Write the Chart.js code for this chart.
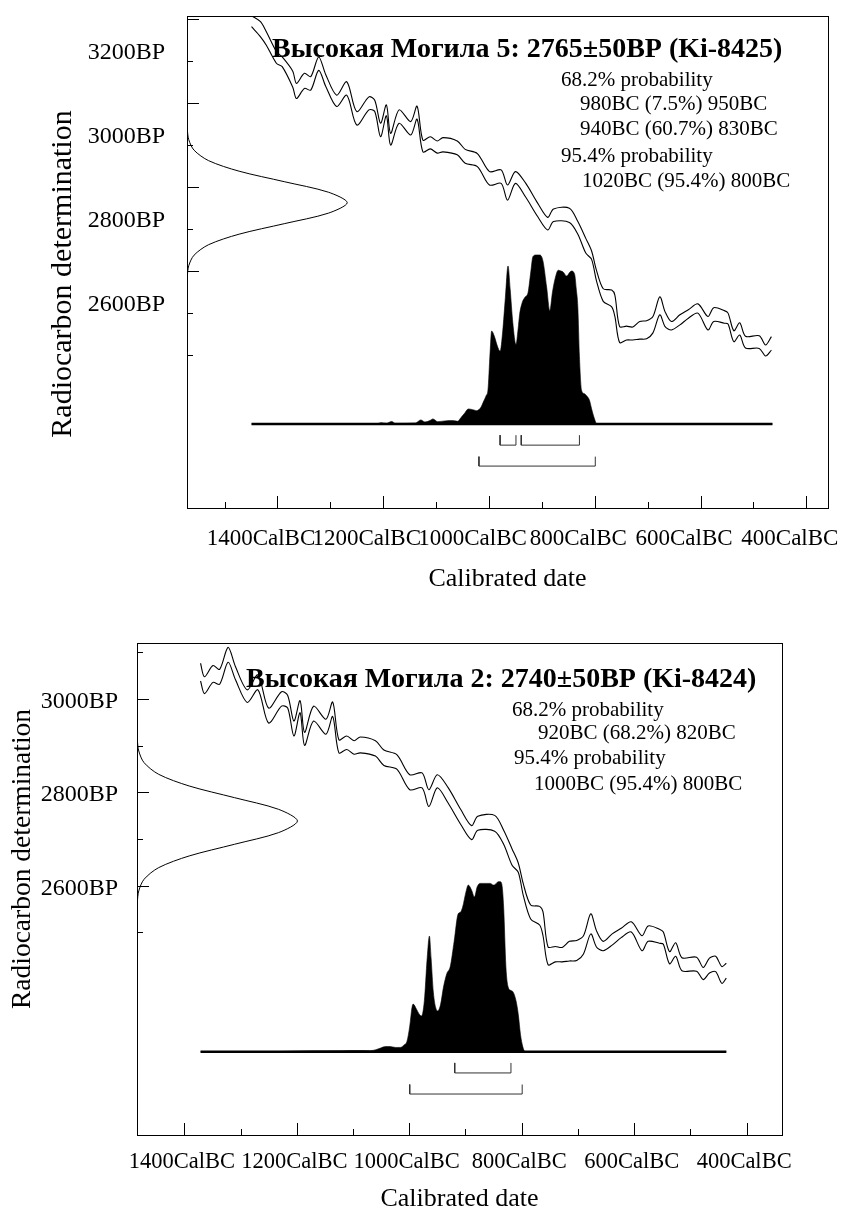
<!DOCTYPE html>
<html lang="ru">
<head>
<meta charset="utf-8">
<title>Высокая Могила – калибровка</title>
<script src="https://cdn.jsdelivr.net/npm/chart.js@4/dist/chart.umd.min.js"></script>
<style>
  html, body { margin: 0; padding: 0; background: #fff; }
  .plot { position: absolute; left: 0; }
  #plot-a { top: 0; }
  #plot-b { top: 605px; }
</style>
</head>
<body>
<canvas id="plot-a" class="plot" width="855" height="605"></canvas>
<canvas id="plot-b" class="plot" width="855" height="612"></canvas>
<script>
const SERIF = "'Liberation Serif', 'Times New Roman', Times, serif";

// ── Calibration curve, ±1σ envelope (years BC → BP) ──
const CURVE_YEAR_BC = [1450, 1433, 1422, 1403, 1392, 1372, 1365, 1350, 1338, 1323, 1310, 1289, 1270, 1251, 1228, 1217, 1206, 1195, 1187, 1171,
  1149, 1137, 1126, 1112, 1099, 1088, 1061, 1046, 1023, 1000, 978, 966, 951, 932, 909, 890, 879,
  849, 833, 818, 807, 798, 785, 769, 763, 754, 741, 729, 716, 703, 691, 678, 668, 656, 640, 624, 606,
  587, 576, 556, 549, 538, 527, 516, 490, 478, 467, 456, 445, 437];
const CURVE_UPPER_BP = [3210, 3196, 3172, 3125, 3112, 3078, 3049, 3073, 3065, 3112, 3071, 3021, 3053, 2982, 3017, 3009, 2954, 2998, 2930, 2986,
  2958, 2995, 2914, 2922, 2912, 2920, 2912, 2892, 2882, 2839, 2843, 2807, 2839, 2812, 2764, 2730, 2750,
  2752, 2720, 2680, 2650, 2605, 2560, 2557, 2545, 2470, 2471, 2469, 2482, 2484, 2494, 2541, 2505, 2482, 2498, 2510, 2524,
  2494, 2515, 2508, 2502, 2460, 2479, 2447, 2448, 2426, 2446, 2450, 2428, 2435];
const CURVE_LOWER_BP = [3184, 3160, 3140, 3097, 3089, 3040, 3013, 3037, 3033, 3080, 3043, 2994, 3021, 2950, 2986, 2982, 2922, 2972, 2902, 2954,
  2926, 2964, 2886, 2893, 2883, 2886, 2879, 2859, 2851, 2807, 2811, 2771, 2811, 2779, 2732, 2700, 2720,
  2718, 2690, 2645, 2630, 2580, 2530, 2517, 2494, 2432, 2438, 2438, 2440, 2441, 2455, 2498, 2470, 2462, 2474, 2490, 2502,
  2462, 2482, 2478, 2476, 2434, 2450, 2419, 2418, 2400, 2414, 2417, 2392, 2403];

// ── Axes ──
const X_TICKS = [1400, 1200, 1000, 800, 600, 400];
const X_MINOR = [1500, 1400, 1300, 1200, 1100, 1000, 900, 800, 700, 600, 500, 400];

// ── Высокая Могила 5 ──
const A_TITLE = 'Высокая Могила 5: 2765±50BP (Ki-8425)';
const A_INFO = ['68.2% probability', '980BC (7.5%) 950BC', '940BC (60.7%) 830BC', '95.4% probability', '1020BC (95.4%) 800BC'];
const A_SPAN = [1450, 465];
const A_Y_TICKS = [3200, 3000, 2800, 2600];
const A_Y_MINOR = [3200, 3100, 3000, 2900, 2800, 2700, 2600, 2500, 2400];
const A_GAUSS_BP = [3210, 2965, 2940, 2915, 2890, 2865, 2840, 2815, 2790, 2765, 2740, 2715, 2690, 2665, 2640, 2615, 2590, 2565, 2400];
const A_GAUSS_P  = [0, 0, 0.002, 0.011, 0.044, 0.135, 0.325, 0.607, 0.882, 1, 0.882, 0.607, 0.325, 0.135, 0.044, 0.011, 0.002, 0, 0];
const A_PROB_YEAR = [1450, 1215, 1205, 1195, 1185, 1178, 1140, 1130, 1122, 1113, 1107, 1098, 1085, 1070, 1060, 1056, 1048, 1040, 1032, 1024,
  1016, 1012, 1006, 1003, 999, 996, 991, 985, 980, 975, 970, 965, 961, 956, 950, 946, 943, 938, 933, 927,
  922, 918, 912, 905, 899, 892, 886, 881, 876, 870, 865, 861, 854, 849, 845, 839, 836, 833, 830, 826,
  821, 816, 811, 807, 802, 797, 465];
const A_PROB = [0, 0, 0.008, 0.004, 0.015, 0.004, 0.006, 0.024, 0.012, 0.02, 0.03, 0.014, 0.018, 0.02, 0.016, 0.03, 0.06, 0.089, 0.085, 0.079,
  0.1, 0.128, 0.17, 0.2, 0.42, 0.55, 0.52, 0.46, 0.43, 0.55, 0.75, 0.935, 0.8, 0.6, 0.47, 0.56, 0.65, 0.72, 0.75, 0.78,
  0.9, 0.99, 1.0, 1.0, 0.965, 0.81, 0.67, 0.78, 0.86, 0.91, 0.905, 0.9, 0.875, 0.895, 0.905, 0.885, 0.8, 0.69, 0.4, 0.2,
  0.18, 0.165, 0.14, 0.09, 0.035, 0, 0];
const A_RANGE_68 = [[980, 950], [940, 830]];
const A_RANGE_95 = [[1020, 800]];

// ── Высокая Могила 2 ──
const B_TITLE = 'Высокая Могила 2: 2740±50BP (Ki-8424)';
const B_INFO = ['68.2% probability', '920BC (68.2%) 820BC', '95.4% probability', '1000BC (95.4%) 800BC'];
const B_SPAN = [1372, 437];
const B_Y_TICKS = [3000, 2800, 2600];
const B_Y_MINOR = [3100, 3000, 2900, 2800, 2700, 2600, 2500];
const B_GAUSS_BP = [3125, 2940, 2915, 2890, 2865, 2840, 2815, 2790, 2765, 2740, 2715, 2690, 2665, 2640, 2615, 2590, 2565, 2540, 2400];
const B_GAUSS_P  = [0, 0, 0.002, 0.011, 0.044, 0.135, 0.325, 0.607, 0.882, 1, 0.882, 0.607, 0.325, 0.135, 0.044, 0.011, 0.002, 0, 0];
const B_PROB_YEAR = [1372, 1250, 1200, 1150, 1120, 1095, 1070, 1060, 1053, 1043, 1035, 1025, 1017, 1010, 1005, 1000, 996, 994, 988, 983,
  979, 974, 969, 965, 962, 958, 953, 950, 945, 940, 934, 928, 921, 914, 910, 906, 900, 896, 890, 885,
  880, 875, 869, 863, 857, 851, 846, 843, 839, 836, 833, 829, 825, 820, 816, 811, 807, 803, 799, 795, 437];
const B_PROB = [0, 0, 0.004, 0.005, 0.006, 0.007, 0.006, 0.012, 0.02, 0.03, 0.03, 0.025, 0.025, 0.04, 0.06, 0.15, 0.26, 0.28, 0.25, 0.22,
  0.21, 0.3, 0.55, 0.68, 0.55, 0.35, 0.25, 0.24, 0.28, 0.38, 0.46, 0.5, 0.65, 0.81, 0.82, 0.85, 0.94, 0.98, 0.95, 0.91,
  0.97, 0.99, 0.99, 0.99, 0.99, 0.98, 0.99, 1.0, 1.0, 0.98, 0.85, 0.5, 0.38, 0.36, 0.35, 0.3, 0.22, 0.1, 0.03, 0, 0];
const B_RANGE_68 = [[920, 820]];
const B_RANGE_95 = [[1000, 800]];

// range brackets under the distribution (in probability-axis units)
const BR_68 = { hi: -0.066, lo: -0.125 };
const BR_95 = { hi: -0.193, lo: -0.249 };

Chart.defaults.font.family = SERIF;
Chart.defaults.color = '#000';

// draws the free text (titles, probability ranges, y title)
function textPlugin(items) {
  return {
    id: 'oxText',
    afterDraw(chart) {
      const ctx = chart.ctx;
      items.forEach(t => {
        ctx.save();
        ctx.font = t.font;
        ctx.fillStyle = '#000';
        ctx.textBaseline = 'middle';
        ctx.textAlign = t.align || 'left';
        ctx.translate(t.x, t.y);
        if (t.rotate) ctx.rotate(t.rotate);
        ctx.fillText(t.text, 0, 0);
        ctx.restore();
      });
    },
  };
}

// fixed axis size, and no label overflow padding pushing the plot frame around
const fixSize = (w, h) => s => {
  if (w !== null) s.width = w;
  if (h !== null) s.height = h;
  s.paddingLeft = s.paddingRight = s.paddingTop = s.paddingBottom = 0;
};

function makePlot(canvasId, p, lay) {
  const idx = CURVE_YEAR_BC.map((_, i) => i)
    .filter(i => CURVE_YEAR_BC[i] <= p.span[0] && CURVE_YEAR_BC[i] >= p.span[1]);

  const line = (data, extra) => Object.assign({
    data, xAxisID: 'x', yAxisID: 'y', borderColor: '#000', borderWidth: 1,
    pointRadius: 0, fill: false, tension: 0,
  }, extra);
  const bracket = ([a, b], lv) => line(
    [{ x: a, y: lv.hi }, { x: a, y: lv.lo }, { x: b, y: lv.lo }, { x: b, y: lv.hi }],
    { yAxisID: 'yp', borderColor: '#333' });

  const datasets = [
    line(idx.map(i => ({ x: CURVE_YEAR_BC[i], y: CURVE_UPPER_BP[i] })), { tension: 0.3, borderWidth: 1.1 }),
    line(idx.map(i => ({ x: CURVE_YEAR_BC[i], y: CURVE_LOWER_BP[i] })), { tension: 0.3, borderWidth: 1.1 }),
    line(p.gaussBP.map((bp, i) => ({ x: p.gaussP[i], y: bp })), { xAxisID: 'xg', tension: 0.3 }),
    line(p.probYear.map((yr, i) => ({ x: yr, y: p.prob[i] })), {
      yAxisID: 'yp', fill: 'origin', backgroundColor: '#000', borderWidth: 0.6, cubicInterpolationMode: 'monotone',
    }),
    line([{ x: p.span[0], y: 0 }, { x: p.span[1], y: 0 }], { yAxisID: 'yp', borderWidth: 2.4 }),
    ...p.r68.map(r => bracket(r, BR_68)),
    ...p.r95.map(r => bracket(r, BR_95)),
  ];

  const hidden = { grid: { display: false }, ticks: { display: false }, border: { display: true, color: '#000', width: 1 } };
  const inRange = s => v => v >= s.min && v <= s.max;

  const texts = [
    { text: p.title, x: lay.title[0], y: lay.title[1], font: 'bold 28px ' + SERIF },
    ...p.info.map((t, i) => ({ text: t, x: lay.infoX[i], y: lay.infoY[i], font: '21px ' + SERIF })),
    { text: 'Radiocarbon determination', x: lay.yTitle[0], y: lay.yTitle[1], rotate: -Math.PI / 2, align: 'center',
      font: lay.yTitleSize + 'px ' + SERIF },
  ];

  return new Chart(document.getElementById(canvasId), {
    type: 'line',
    data: { datasets },
    plugins: [textPlugin(texts)],
    options: {
      responsive: false, animation: false, events: [],
      layout: { autoPadding: false, padding: { left: 0, top: lay.top, right: lay.right, bottom: 0 } },
      plugins: { legend: { display: false }, tooltip: { enabled: false } },
      scales: {
        x: {
          type: 'linear', axis: 'x', position: 'bottom', reverse: true, min: p.xMin, max: p.xMax,
          afterBuildTicks: s => { s.ticks = X_TICKS.filter(inRange(s)).map(v => ({ value: v })); },
          afterFit: fixSize(null, lay.xAxisH),
          grid: { drawOnChartArea: false, tickLength: -12, color: '#000' },
          border: { display: true, color: '#000', width: 1 },
          ticks: {
            autoSkip: false, maxRotation: 0, minRotation: 0, padding: lay.xTickPad, labelOffset: lay.xLabelOffset,
            font: { size: lay.xTickSize }, callback: v => v + 'CalBC',
          },
          title: { display: true, text: 'Calibrated date', font: { size: 26 }, padding: { top: 0, bottom: lay.xTitlePad } },
        },
        xMinor: {
          type: 'linear', axis: 'x', position: 'bottom', weight: -1, reverse: true, min: p.xMin, max: p.xMax,
          afterBuildTicks: s => { s.ticks = X_MINOR.filter(inRange(s)).map(v => ({ value: v })); },
          afterFit: fixSize(null, 0),
          grid: { drawOnChartArea: false, tickLength: -6, color: '#000' },
          border: { display: false }, ticks: { display: false },
        },
        y: {
          type: 'linear', axis: 'y', position: 'left', min: p.yMin, max: p.yMax,
          afterBuildTicks: s => { s.ticks = p.yTicks.map(v => ({ value: v })); },
          afterFit: fixSize(lay.yAxisW, null),
          grid: { drawOnChartArea: false, tickLength: -12, color: '#000' },
          border: { display: true, color: '#000', width: 1 },
          ticks: { padding: lay.yTickPad, labelOffset: lay.yLabelOffset, font: { size: 24 }, callback: v => v + 'BP' },
        },
        yMinor: {
          type: 'linear', axis: 'y', position: 'left', weight: -1, min: p.yMin, max: p.yMax,
          afterBuildTicks: s => { s.ticks = p.yMinor.map(v => ({ value: v })); },
          afterFit: fixSize(0, null),
          grid: { drawOnChartArea: false, tickLength: -6, color: '#000' },
          border: { display: false }, ticks: { display: false },
        },
        xg: Object.assign({ type: 'linear', axis: 'x', position: 'top', min: 0, max: p.gMax,
          afterFit: fixSize(null, 0) }, hidden),
        yp: Object.assign({ type: 'linear', axis: 'y', position: 'right', min: p.pMin, max: p.pMax,
          afterFit: fixSize(0, null) }, hidden),
      },
    },
  });
}

makePlot('plot-a', {
  title: A_TITLE, info: A_INFO, span: A_SPAN, yTicks: A_Y_TICKS, yMinor: A_Y_MINOR,
  gaussBP: A_GAUSS_BP, gaussP: A_GAUSS_P, probYear: A_PROB_YEAR, prob: A_PROB,
  r68: A_RANGE_68, r95: A_RANGE_95,
  xMin: 360, xMax: 1572, yMin: 2038, yMax: 3209.5, pMin: -0.497, pMax: 2.414, gMax: 4.0,
}, {
  top: 16, right: 27, yAxisW: 187, xAxisH: 97,
  xTickPad: 29, xTickSize: 23, xLabelOffset: -17, xTitlePad: 10, yTickPad: 34, yLabelOffset: 33,
  title: [272, 50], infoX: [561, 580, 580, 561, 582], infoY: [80, 104, 129, 156, 181],
  yTitle: [63, 274], yTitleSize: 30,
});

makePlot('plot-b', {
  title: B_TITLE, info: B_INFO, span: B_SPAN, yTicks: B_Y_TICKS, yMinor: B_Y_MINOR,
  gaussBP: B_GAUSS_BP, gaussP: B_GAUSS_P, probYear: B_PROB_YEAR, prob: B_PROB,
  r68: B_RANGE_68, r95: B_RANGE_95,
  xMin: 338, xMax: 1485, yMin: 2067, yMax: 3121.4, pMin: -0.49, pMax: 2.404, gMax: 4.02,
}, {
  top: 38, right: 73, yAxisW: 137, xAxisH: 82,
  xTickPad: 26, xTickSize: 22.5, xLabelOffset: -3, xTitlePad: 2, yTickPad: 31, yLabelOffset: 2,
  title: [246, 75], infoX: [512, 538, 514, 534], infoY: [105, 128, 153, 179],
  yTitle: [23, 254], yTitleSize: 27.5,
});
</script>
</body>
</html>
